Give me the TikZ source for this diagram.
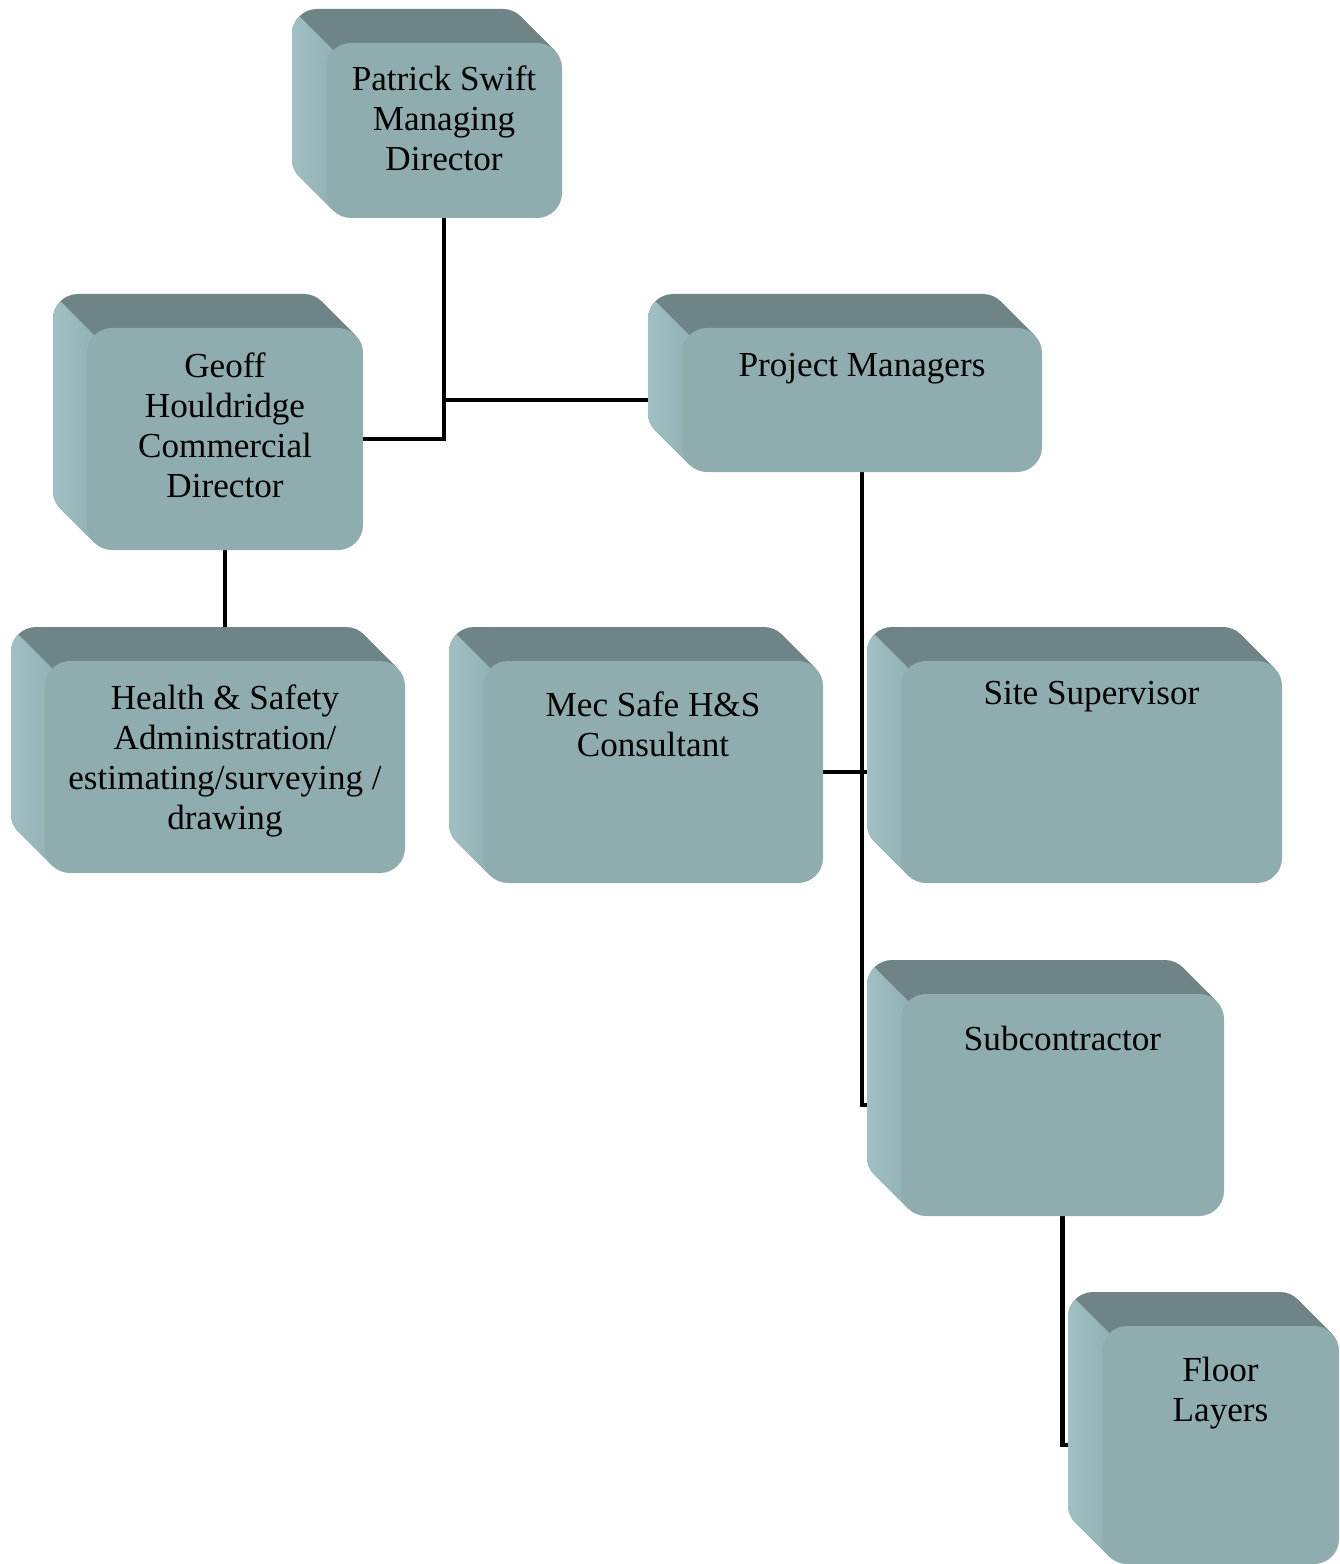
\documentclass[tikz,border=0pt]{standalone}
\usepackage{fontspec}
\setmainfont{Liberation Serif}
\usetikzlibrary{backgrounds}
\definecolor{boxfront}{HTML}{8FACAE}
\definecolor{boxtop}{HTML}{6F8486}
\definecolor{boxsidel}{HTML}{A7C7CA}
\definecolor{boxsider}{HTML}{92B1B4}
\tikzset{
  frontface/.style={rectangle, rounded corners=0.5cm, fill=boxfront, inner sep=0pt},
  boxtext/.style={align=center, inner sep=0pt, anchor=north, font=\fontsize{20}{22.8}\selectfont},
  orgline/.style={line width=2.5pt, black},
}
\def\boxdep{34}  % depth of the box, px
\def\boxcut{7.3} % tangent offset of a 25px corner
% #1 name, #2-#5 front face left/top/right/bottom (px), #6 text top (px), #7 text
\newcommand{\orgbox}[7]{%
  \pgfmathsetmacro{\bw}{(#4-#2)*0.02}%
  \pgfmathsetmacro{\bh}{(#5-#3)*0.02}%
  \fill[boxtop, rounded corners=0.5cm] (#2-\boxdep,#3-\boxdep) rectangle (#4-\boxdep,#5-\boxdep);
  \fill[boxtop] (#4-\boxdep-\boxcut,#3-\boxdep+\boxcut) -- (#4-\boxcut,#3+\boxcut) -- (#2+\boxcut,#5-\boxcut) -- (#2-\boxdep+\boxcut,#5-\boxdep-\boxcut) -- cycle;
  \begin{scope}
    \clip[rounded corners=0.5cm] (#2-\boxdep,#3-\boxdep) rectangle (#4-\boxdep,#5-\boxdep);
    \shade[left color=boxsidel, right color=boxsider] (#2-\boxdep+\boxcut-20,#3-\boxdep+\boxcut-20) -- (#2+\boxcut,#3+\boxcut) -- (#2+\boxcut,#5+10) -- (#2-\boxdep-20,#5+10) -- (#2-\boxdep-20,#3-\boxdep+\boxcut-20) -- cycle;
  \end{scope}
  \begin{scope}
    \clip (#4-\boxdep-\boxcut,#3-\boxdep+\boxcut) -- (#4-\boxcut,#3+\boxcut) -- (#2+\boxcut,#5-\boxcut) -- (#2-\boxdep+\boxcut,#5-\boxdep-\boxcut) -- cycle;
    \shade[left color=boxsidel, right color=boxsider] (#2-\boxdep+\boxcut-20,#3-\boxdep+\boxcut-20) -- (#2+\boxcut,#3+\boxcut) -- (#2+\boxcut,#5+10) -- (#2-\boxdep-20,#5+10) -- (#2-\boxdep-20,#3-\boxdep+\boxcut-20) -- cycle;
  \end{scope}
  \node[frontface, minimum width=\bw cm, minimum height=\bh cm] (#1) at ({(#2+#4)/2},{(#3+#5)/2}) {};
  \node[boxtext] (#1-t) at ({(#2+#4)/2},#6) {#7};
}

\begin{document}
\begin{tikzpicture}[x=0.02cm, y=-0.02cm]
  \useasboundingbox (0,0) rectangle (1339,1564);

  % boxes
  \orgbox{md}{326}{43}{562}{218}{65}{Patrick Swift\\Managing\\Director}
  \orgbox{cd}{87}{328}{363}{550}{352}{Geoff\\Houldridge\\Commercial\\Director}
  \orgbox{pm}{682}{328}{1042}{472}{353}{Project Managers}
  \orgbox{hs}{45}{661}{405}{873}{684}{Health \& Safety\\Administration/\\estimating/surveying /\\drawing}
  \orgbox{ms}{483}{661}{823}{883}{691}{Mec Safe H\&S\\Consultant}
  \orgbox{ss}{901}{661}{1282}{883}{681}{Site Supervisor}
  \orgbox{sc}{901}{994}{1224}{1216}{1026}{Subcontractor}
  \orgbox{fl}{1102}{1326}{1339}{1564}{1357}{Floor\\Layers}

  % connectors
  \begin{pgfonlayer}{background}
    \draw[orgline] (md.south) |- (cd.east);
    \draw[orgline] (md.south |- pm.west) -- (pm.west);
    \draw[orgline] (cd.south) -- (hs.north);
    \draw[orgline] (pm.south) |- (sc.west);
    \draw[orgline] (ms.east) -- (ss.west);
    \draw[orgline] (sc.south) |- (fl.west);
  \end{pgfonlayer}
\end{tikzpicture}
\end{document}
